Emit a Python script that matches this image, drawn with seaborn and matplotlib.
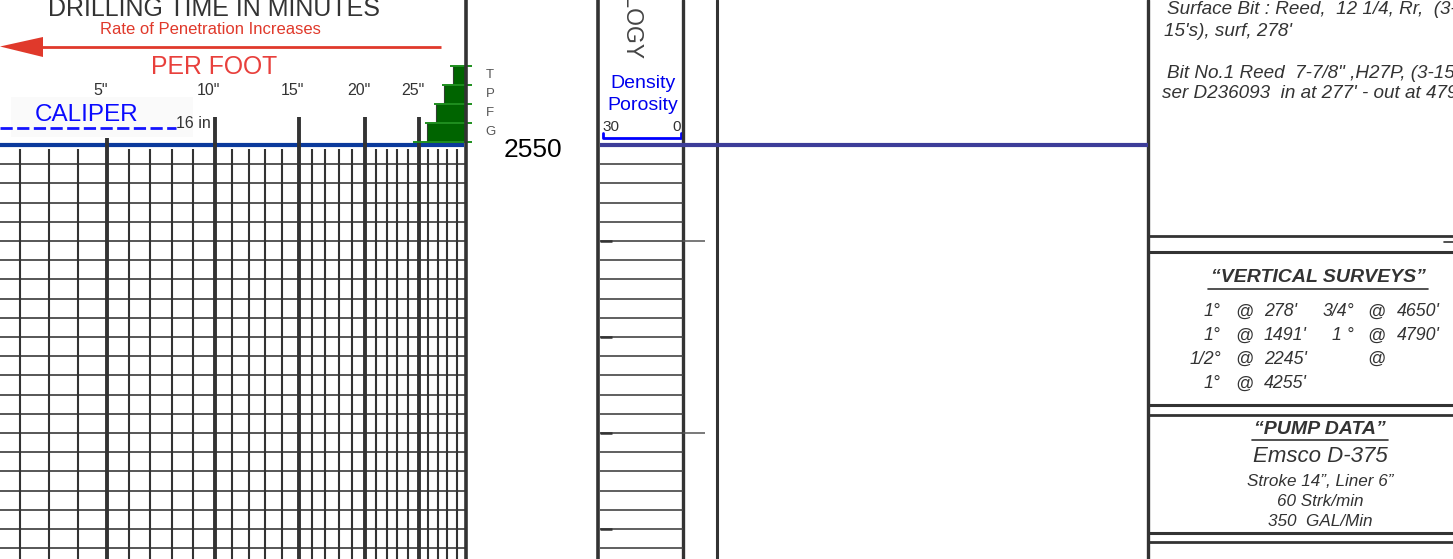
"""
Mud log strip: drilling-time track, lithology track and remarks panel
around the 2550 ft depth mark.
"""

import numpy as np
import matplotlib
matplotlib.use("Agg")
import matplotlib.pyplot as plt
from matplotlib.patches import Polygon, Rectangle
import seaborn as sns

# Depth grid (feet), one ruled line per foot
HEAD_DEPTH = 2550
DEPTH_LINES = list(range(2551, 2572))
DEPTH_FIVES = [2555, 2560, 2565, 2570]
DEPTH_LONG_TICKS = [2555, 2565]

# Drilling time scale (minutes per foot) -- the paper uses an uneven scale
SCALE_MIN = [0, 5, 10, 15, 20, 25, 30, 35]
SCALE_POS = [0, 145, 253, 337, 403, 457, 504, 551]
SCALE_OFFSET = -38  # minute 0 sits just off the left edge of the strip
MINUTE_MAJOR = [5, 10, 15, 20, 25]
MINUTE_LABELS = ['5"', '10"', '15"', '20"', '25"']
MINUTE_MINOR = [m for m in range(1, 30) if m % 5]

# Show legend steps (Trace / Poor / Fair / Good)
SHOW_CODES = ["T", "P", "F", "G"]
SHOW_TOP = [2545.87, 2546.86, 2547.85, 2548.84]
SHOW_START = [28.6, 27.7, 26.8, 25.85]

# Remarks
BIT_LINES = [
    "Surface Bit : Reed,  12 1/4, Rr,  (3-",
    "15's), surf, 278'",
    'Bit No.1 Reed  7-7/8" ,H27P, (3-15\'s)',
    "ser D236093  in at 277' - out at 4790'",
]
SURVEY_DEG_L = ["1°", "1°", "1/2°", "1°"]
SURVEY_DEPTH_L = ["278'", "1491'", "2245'", "4255'"]
SURVEY_DEG_R = ["3/4°", "1 °", "", ""]
SURVEY_DEPTH_R = ["4650'", "4790'", "", ""]
PUMP_LINES = ["Stroke 14”, Liner 6”", "60 Strk/min", "350  GAL/Min"]

sns.set_theme(style="white")
plt.rcParams["font.family"] = ["Liberation Sans", "DejaVu Sans"]

W, H = 1453, 559
PX_PER_FT = 19.2
Y0 = 145  # pixel row of HEAD_DEPTH
d_top = HEAD_DEPTH - Y0 / PX_PER_FT
d_bot = HEAD_DEPTH + (H - Y0) / PX_PER_FT

fig = plt.figure(figsize=(W / 100, H / 100), dpi=100)
fig.patch.set_facecolor("white")

# layout layer in pixel units
bg = fig.add_axes([0, 0, 1, 1], zorder=0)
bg.set_xlim(0, W)
bg.set_ylim(H, 0)
bg.axis("off")

DARK = "#333333"


def fwd(x):
    return np.interp(x, SCALE_MIN, SCALE_POS)


def inv(x):
    return np.interp(x, SCALE_POS, SCALE_MIN)


# ---------------- drilling time track ----------------
ax = fig.add_axes([SCALE_OFFSET / W, 0, fwd(30) / W, 1], zorder=1)
ax.set_xscale("function", functions=(fwd, inv))
ax.set_xlim(0, 30)
ax.set_ylim(d_bot, d_top)
ax.axis("off")
ax.patch.set_alpha(0)

ax.hlines(DEPTH_LINES, 0, 30, colors="#3a3a3a", lw=1.2, zorder=2)
ax.vlines(MINUTE_MINOR, HEAD_DEPTH + 0.2, d_bot, colors=DARK, lw=1.5, zorder=2)
ax.hlines(HEAD_DEPTH, 0, 29.8, colors="#0b3a9c", lw=3.0, zorder=3)
ax.vlines(MINUTE_MAJOR[1:], HEAD_DEPTH - 1.46, d_bot, colors=DARK, lw=2.8, zorder=4)
ax.vlines(MINUTE_MAJOR[0], HEAD_DEPTH - 0.37, d_bot, colors=DARK, lw=2.8, zorder=4)
ax.vlines(30, d_top, d_bot, colors=DARK, lw=2.6, zorder=5, clip_on=False)

# show legend steps
ax.barh(SHOW_TOP, [30 - s for s in SHOW_START], left=SHOW_START, height=0.99,
        align="edge", color="#006400", edgecolor="#2f3f2f", lw=0.8, zorder=3)
ax.hlines(SHOW_TOP, [s - 0.25 for s in SHOW_START], 30.6, colors="#1e8f1e",
          lw=1.4, zorder=4, clip_on=False)
ax.hlines(SHOW_TOP[-1] + 0.99, 24.4, 30.6, colors="#1e8f1e", lw=1.4, zorder=4,
          clip_on=False)
for code, top in zip(SHOW_CODES, SHOW_TOP):
    ax.annotate(code, xy=(30, top + 0.5), xytext=(14, 0), textcoords="offset points",
                ha="left", va="center", fontsize=9.5, color="#555555",
                annotation_clip=False)

for m, lab in zip(MINUTE_MAJOR, MINUTE_LABELS):
    ax.annotate(lab, xy=(m, HEAD_DEPTH - 2.86), xytext=(-4.5, 0),
                textcoords="offset points", ha="center", va="center",
                fontsize=11.5, color=DARK)

# header text
bg.text(214, 16, "DRILLING TIME IN MINUTES", ha="center", va="baseline",
        fontsize=18, color=DARK)
bg.text(210, 29, "Rate of Penetration Increases", ha="center", va="center",
        fontsize=12, color="#e0392b")
bg.plot([38, 441], [46.5, 46.5], color="#e0392b", lw=2.0, solid_capstyle="butt")
bg.add_patch(Polygon([[0, 46.5], [43, 37], [43, 57]], closed=True,
                     color="#e0392b", lw=0))
bg.text(214, 67, "PER FOOT", ha="center", va="center", fontsize=17.8,
        color="#e8403c")

bg.add_patch(Rectangle((11, 97), 182, 40, color="#fafafa", lw=0, zorder=0))
bg.text(87, 115, "CALIPER", ha="center", va="center", fontsize=17.5,
        color="#0a0aff")
bg.plot([0, 176], [128, 128], color="#1414ff", lw=2.0, dashes=(4.4, 1.6))
bg.text(176, 124, "16 in", ha="left", va="center", fontsize=11.5, color=DARK)

bg.text(533, 150, "2550", ha="center", va="center", fontsize=19, color="black")

# ---------------- lithology track ----------------
lx = fig.add_axes([598 / W, 0, 550 / W, 1], zorder=1)
lx.set_xlim(598, 1148)
lx.set_ylim(d_bot, d_top)
lx.axis("off")
lx.patch.set_alpha(0)
lx.hlines(DEPTH_LINES, 600, 683, colors="#444444", lw=1.2)
lx.hlines(DEPTH_LONG_TICKS, 683, 705, colors="#555555", lw=1.1)
lx.hlines(DEPTH_FIVES, 600, 612, colors=DARK, lw=1.8)
lx.hlines(HEAD_DEPTH, 600, 1148, colors="#3d3d99", lw=3.0)

bg.text(631, 60, "LITHOLOGY", rotation=270, ha="center", va="bottom",
        fontsize=16.5, color="#444444")
bg.text(643, 83, "Density", ha="center", va="center", fontsize=14,
        color="#0000ee")
bg.text(643, 105, "Porosity", ha="center", va="center", fontsize=14,
        color="#0000ee")
bg.text(602, 127, "30", ha="left", va="center", fontsize=11, color=DARK)
bg.text(681, 127, "0", ha="right", va="center", fontsize=11, color=DARK)
bg.plot([603, 603, 681, 681], [133, 137.5, 137.5, 133], color="#0000ff", lw=2.0)

# track borders
for x, lw in [(598, 2.6), (683, 2.4), (717, 2.2), (1148, 2.4)]:
    bg.plot([x, x], [0, H], color=DARK, lw=lw, zorder=3)

# ---------------- remarks panel ----------------
for y, lw in [(236, 2.0), (252, 2.2), (405, 2.2), (415, 2.0), (533, 2.2), (542, 2.0)]:
    bg.plot([1148, W], [y, y], color=DARK, lw=lw)
bg.plot([1444, W], [241.5, 241.5], color=DARK, lw=1.2)

for (x, y), line in zip([(1167, 10), (1164, 31), (1167, 73), (1162, 93)], BIT_LINES):
    bg.text(x, y, line, ha="left", va="center", fontsize=13.6, style="italic",
            color=DARK)

bg.text(1318, 278, "“VERTICAL SURVEYS”", ha="center", va="center", fontsize=14,
        style="italic", weight="bold", color=DARK)
bg.plot([1208, 1428], [289, 289], color=DARK, lw=1.2)
for y, dl, pl, dr, pr in zip([312, 336, 359, 384], SURVEY_DEG_L, SURVEY_DEPTH_L,
                             SURVEY_DEG_R, SURVEY_DEPTH_R):
    kw = dict(va="center", fontsize=12.8, style="italic", color=DARK)
    bg.text(1221, y, dl, ha="right", **kw)
    bg.text(1244, y, "@", ha="center", **kw)
    bg.text(1264, y, pl, ha="left", **kw)
    bg.text(1354, y, dr, ha="right", **kw)
    if y < 380:
        bg.text(1376, y, "@", ha="center", **kw)
    bg.text(1397, y, pr, ha="left", **kw)

bg.text(1320, 430, "“PUMP DATA”", ha="center", va="center", fontsize=14,
        style="italic", weight="bold", color=DARK)
bg.plot([1252, 1388], [440, 440], color=DARK, lw=1.2)
bg.text(1320, 456, "Emsco D-375", ha="center", va="center", fontsize=16,
        style="italic", color=DARK)
for y, line in zip([481, 501, 521], PUMP_LINES):
    bg.text(1320, y, line, ha="center", va="center", fontsize=12.3, style="italic",
            color=DARK)

fig.savefig("out.png", dpi=100)
